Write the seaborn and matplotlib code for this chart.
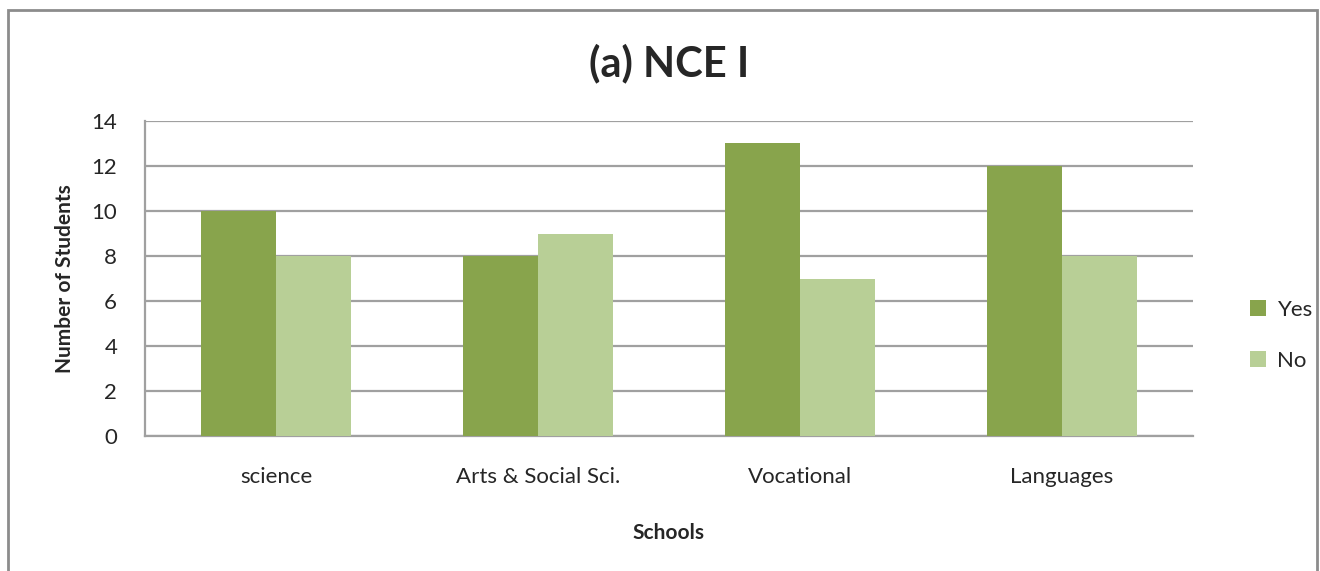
import pandas as pd
import matplotlib.pyplot as plt
import seaborn as sns
from matplotlib.patches import Rectangle

# chart data
schools = ["science", "Arts & Social Sci.", "Vocational", "Languages"]
yes_counts = [10, 8, 13, 12]
no_counts = [8, 9, 7, 8]
y_ticks = [0, 2, 4, 6, 8, 10, 12, 14]

df = pd.DataFrame({
    "school": schools * 2,
    "count": yes_counts + no_counts,
    "answer": ["Yes"] * len(schools) + ["No"] * len(schools),
})

sns.set_style("white")
plt.rcParams['font.family'] = ['Lato', 'DejaVu Sans']

fig = plt.figure(figsize=(13.2, 5.71), dpi=100)
ax = fig.add_axes([0.1098, 0.2364, 0.7940, 0.5517])

palette = {"Yes": "#88A44C", "No": "#B8CF96"}
sns.barplot(data=df, x="school", y="count", hue="answer", palette=palette,
            width=0.57, gap=0, saturation=1, linewidth=0, ax=ax, zorder=3)

ax.set_ylim(0, 14)
ax.set_yticks(y_ticks)
ax.set_xlim(-0.5, len(schools) - 0.5)
ax.yaxis.grid(True, color="#A0A0A0", linewidth=1.6, zorder=0)
ax.set_axisbelow(True)

for side in ["top", "right"]:
    ax.spines[side].set_visible(False)
ax.spines["left"].set_color("#A0A0A0")
ax.spines["left"].set_linewidth(1.6)
ax.spines["bottom"].set_color("#A0A0A0")
ax.spines["bottom"].set_linewidth(1.6)

ax.tick_params(axis="y", length=8, width=1.6, color="#A0A0A0", labelsize=16, pad=12)
ax.tick_params(axis="x", length=0, labelsize=16, pad=22)

ax.set_xlabel("Schools", fontsize=15, fontweight="bold", labelpad=26)
ax.set_ylabel("Number of Students", fontsize=15, fontweight="bold", labelpad=12)
ax.set_title("(a) NCE I", fontsize=30, fontweight="bold", pad=32)

leg = ax.legend(loc="center left", bbox_to_anchor=(1.035, 0.32), frameon=False,
                fontsize=16, handlelength=0.75, handleheight=0.75, labelspacing=1.4,
                handletextpad=0.5)

# outer frame of the chart area
frame = Rectangle((8 / 1320, -0.05), 1309 / 1320, 0.05 + 561 / 571,
                  transform=fig.transFigure, fill=False, edgecolor="#8C8C8C",
                  linewidth=2, clip_on=False)
fig.patches.append(frame)

plt.savefig("out.png", dpi=100)
